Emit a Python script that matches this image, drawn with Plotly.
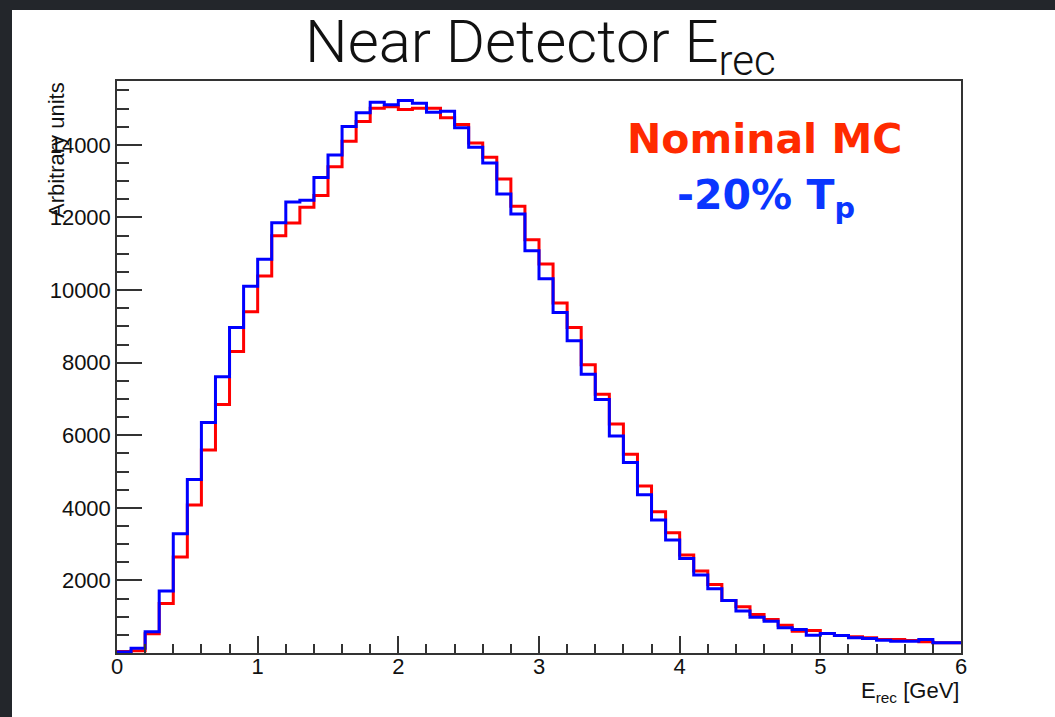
import plotly.graph_objects as go

# ---- data ----
bin_edges = [0.0, 0.1, 0.2, 0.3, 0.4, 0.5, 0.6, 0.7, 0.8, 0.9,
             1.0, 1.1, 1.2, 1.3, 1.4, 1.5, 1.6, 1.7, 1.8, 1.9,
             2.0, 2.1, 2.2, 2.3, 2.4, 2.5, 2.6, 2.7, 2.8, 2.9,
             3.0, 3.1, 3.2, 3.3, 3.4, 3.5, 3.6, 3.7, 3.8, 3.9,
             4.0, 4.1, 4.2, 4.3, 4.4, 4.5, 4.6, 4.7, 4.8, 4.9,
             5.0, 5.1, 5.2, 5.3, 5.4, 5.5, 5.6, 5.7, 5.8, 5.9, 6.0]

nominal_mc = [40, 60, 530, 1365, 2643, 4078, 5595, 6847, 8309, 9402,
              10386, 11499, 11848, 12281, 12602, 13400, 14102, 14644, 15011, 15048,
              14975, 15011, 15011, 14745, 14561, 14055, 13660, 13062, 12309, 11388,
              10717, 9641, 8971, 7939, 7131, 6310, 5476, 4602, 3894, 3315,
              2699, 2257, 1890, 1448, 1274, 1062, 924, 767, 602, 620,
              538, 483, 447, 419, 372, 372, 345, 309, 281, 281]

minus20_tp = [30, 130, 585, 1705, 3288, 4778, 6350, 7609, 8971, 10102,
              10847, 11857, 12428, 12475, 13099, 13724, 14506, 14883, 15177, 15103,
              15223, 15150, 14901, 14929, 14469, 13936, 13503, 12648, 12097, 11084,
              10310, 9385, 8602, 7683, 6985, 5981, 5246, 4360, 3664, 3112,
              2607, 2147, 1771, 1448, 1154, 988, 877, 695, 648, 491,
              538, 483, 419, 400, 354, 326, 326, 372, 281, 281]

x_ticks = [0, 1, 2, 3, 4, 5, 6]
x_tick_labels = ["0", "1", "2", "3", "4", "5", "6"]
y_ticks = [0, 2000, 4000, 6000, 8000, 10000, 12000, 14000]
y_tick_labels = ["", "2000", "4000", "6000", "8000", "10000", "12000", "14000"]

# ---- layout geometry (pixels) ----
W, H = 1055, 717
L, R, T, B = 117, 961, 81, 653
Y_MAX = 15760


def fx(px):
    return (px - L) / (R - L)


def fy(py):
    return (B - py) / (B - T)


fig = go.Figure()

fig.add_trace(go.Scatter(
    x=bin_edges, y=nominal_mc + [nominal_mc[-1]],
    mode="lines", line=dict(color="#ff0000", width=3, shape="hv"),
    name="Nominal MC", showlegend=False))
fig.add_trace(go.Scatter(
    x=bin_edges, y=minus20_tp + [minus20_tp[-1]],
    mode="lines", line=dict(color="#0000ff", width=3, shape="hv"),
    name="-20% Tp", showlegend=False))

axis_col = "#333333"
tick_font = dict(family="Liberation Sans, Arial, sans-serif", size=22, color="#111111")

x_minor = [v / 5 for v in range(0, 31) if v % 5 != 0]
y_minor = [v * 500 for v in range(0, 32) if v % 4 != 0]

fig.update_xaxes(
    range=[0, 6], showgrid=False, zeroline=False,
    showline=True, linecolor=axis_col, linewidth=1.5, mirror=True,
    tickmode="array", tickvals=x_ticks, ticktext=x_tick_labels,
    ticks="inside", ticklen=17, tickwidth=1.5, tickcolor=axis_col,
    minor=dict(tickmode="array", tickvals=x_minor, ticks="inside",
               ticklen=9, tickwidth=1.5, tickcolor=axis_col),
    tickfont=tick_font, ticklabelstandoff=-7,
)
fig.update_yaxes(
    range=[0, Y_MAX], showgrid=False, zeroline=False,
    showline=True, linecolor=axis_col, linewidth=1.5, mirror=True,
    tickmode="array", tickvals=y_ticks, ticktext=y_tick_labels,
    ticks="inside", ticklen=25, tickwidth=1.5, tickcolor=axis_col,
    minor=dict(tickmode="array", tickvals=y_minor, ticks="inside",
               ticklen=12, tickwidth=1.5, tickcolor=axis_col),
    tickfont=tick_font, ticklabelstandoff=0,
)

shapes = [
    # white slide canvas over the dark patterned background
    dict(type="rect", xref="paper", yref="paper",
         x0=fx(12), x1=fx(W + 5), y0=fy(H + 5), y1=fy(10),
         fillcolor="white", line=dict(width=0), layer="below"),
]
fig.update_layout(shapes=shapes)

annotations = [
    dict(text="Near Detector E<sub>rec</sub>", x=fx(540), y=fy(46),
         xref="paper", yref="paper", xanchor="center", yanchor="middle",
         showarrow=False,
         font=dict(family="Roboto, Open Sans, sans-serif", size=60, color="#111111", weight=300)),
    dict(text="Nominal MC", x=fx(764), y=fy(139),
         xref="paper", yref="paper", xanchor="center", yanchor="middle",
         showarrow=False,
         font=dict(family="DejaVu Sans, sans-serif", size=41, color="#ff2a00", weight="bold")),
    dict(text="-20% T<sub>p</sub>", x=fx(766), y=fy(198),
         xref="paper", yref="paper", xanchor="center", yanchor="middle",
         showarrow=False,
         font=dict(family="DejaVu Sans, sans-serif", size=41, color="#0a36ff", weight="bold")),
    dict(text="Arbitrary units", x=fx(56), y=fy(150), textangle=-90,
         xref="paper", yref="paper", xanchor="center", yanchor="middle",
         showarrow=False, font=tick_font),
    dict(text="E<sub>rec</sub> [GeV]", x=fx(961), y=fy(692),
         xref="paper", yref="paper", xanchor="right", yanchor="middle",
         showarrow=False, font=tick_font),
]
fig.update_layout(annotations=annotations)

fig.update_layout(
    width=W, height=H,
    margin=dict(l=L, r=W - R, t=T, b=H - B, pad=0),
    paper_bgcolor="#23262b", plot_bgcolor="white",
    showlegend=False,
)

fig.write_html("out.html")
